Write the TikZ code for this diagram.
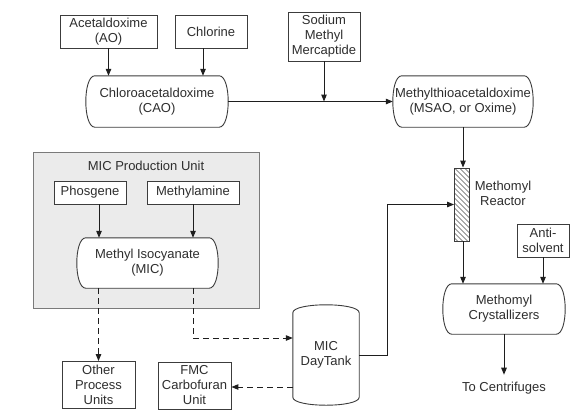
\documentclass[tikz,border=0pt]{standalone}
\usepackage{fontspec}
\setmainfont{Liberation Sans}
\usetikzlibrary{arrows.meta,backgrounds}
\definecolor{ink}{HTML}{1E1E1E}
\definecolor{txt}{HTML}{2E2E2E}
\definecolor{boxline}{HTML}{3C3C3C}
\definecolor{hatch}{HTML}{555555}
\definecolor{unitfill}{HTML}{EBEBEB}
\definecolor{unitline}{HTML}{7A7A7A}
% horizontal vessel: flat top and bottom, bulging ends
\newcommand\hvesseloutline[1]{%
  \draw[vesselline] ([xshift=9pt]#1.north west) -- ([xshift=-9pt]#1.north east)
    .. controls ([xshift=3pt]#1.north east) and ([xshift=3pt]#1.south east) .. ([xshift=-9pt]#1.south east)
    -- ([xshift=9pt]#1.south west)
    .. controls ([xshift=-3pt]#1.south west) and ([xshift=-3pt]#1.north west) .. cycle;}
% vertical vessel: straight walls, domed heads
\newcommand\vvesseloutline[1]{%
  \draw[vesselline] ([yshift=-8pt]#1.north west) -- ([yshift=8pt]#1.south west)
    .. controls ([yshift=-2.67pt]#1.south west) and ([yshift=-2.67pt]#1.south east) .. ([yshift=8pt]#1.south east)
    -- ([yshift=-8pt]#1.north east)
    .. controls ([yshift=2.67pt]#1.north east) and ([yshift=2.67pt]#1.north west) .. cycle;}
\begin{document}
\begin{tikzpicture}[x=1pt,y=-1pt,
  every node/.style={font=\fontsize{13}{15}\selectfont, text=txt, align=center, inner sep=0pt},
  box/.style={draw=boxline, fill=white, line width=0.9pt},
  vessel/.style={},
  vesselline/.style={draw=boxline, fill=white, line width=0.9pt},
  flow/.style={draw=ink, line width=1pt, -{Triangle[length=7pt,width=5.5pt]}},
  dflow/.style={flow, dash pattern=on 6pt off 4pt},
]
\useasboundingbox (0,0) rectangle (570,410);

% feed boxes and vessels of the oxime route
\node[box, minimum width=97pt, minimum height=33pt] (ao) at (108.5,31.5) {Acetaldoxime\\(AO)};
\node[box, minimum width=72pt, minimum height=33pt] (chlorine) at (211,31.5) {Chlorine};
\node[vessel, minimum width=142pt, minimum height=51pt] (cao) at (157,101.5) {Chloroacetaldoxime\\(CAO)};
\node[box, minimum width=72pt, minimum height=49pt] (sodium) at (324,36.5) {Sodium\\Methyl\\Mercaptide};
\node[vessel, minimum width=140pt, minimum height=51pt] (msao) at (463,101.5) {Methylthioacetaldoxime\\(MSAO, or Oxime)};

% methomyl reactor (packed column) and crystallizers
\node[draw=boxline, fill=white, line width=0.9pt, minimum width=15pt, minimum height=73pt,
  path picture={\foreach \k in {-20,-15,...,80}
    \draw[line width=0.5pt, hatch] (path picture bounding box.north west) ++(0,\k) -- ++(20,20);}]
  (reactor) at (462,204.5) {};
\node (reactorlabel) at (503,193) {Methomyl\\Reactor};
\node[box, minimum width=52pt, minimum height=33pt] (antisolvent) at (543,240.5) {Anti-\\solvent};
\node[vessel, minimum width=122pt, minimum height=50pt] (crys) at (504,309) {Methomyl\\Crystallizers};
\node[inner sep=1pt] (centrifuges) at (504,388) {To Centrifuges};

% MIC production unit
\node (unittitle) at (146,166) {MIC Production Unit};
\node[box, minimum width=72pt, minimum height=23pt] (phosgene) at (90,192.5) {Phosgene};
\node[box, minimum width=92pt, minimum height=23pt] (methylamine) at (193,192.5) {Methylamine};
\node[vessel, minimum width=141pt, minimum height=50pt] (mic) at (147.5,263) {Methyl Isocyanate\\(MIC)};

% MIC storage and consumers
\node[vessel, minimum width=66pt, minimum height=100pt] (daytank) at (326,355) {MIC\\DayTank};
\node[box, minimum width=73pt, minimum height=47pt] (other) at (98.5,385) {Other\\Process\\Units};
\node[box, minimum width=73pt, minimum height=47pt] (fmc) at (194.5,385.5) {FMC\\Carbofuran\\Unit};

\begin{scope}[on background layer]
  \fill[white] (0,0) rectangle (570,410);
  \node[draw=unitline, fill=unitfill, line width=0.8pt, minimum width=226pt, minimum height=156pt]
    (micunit) at (146,230) {};
  \hvesseloutline{cao}
  \hvesseloutline{msao}
  \hvesseloutline{mic}
  \hvesseloutline{crys}
  \vvesseloutline{daytank}
\end{scope}

% process flows
\coordinate (join) at (sodium.south |- cao.east);
\coordinate (riser) at (387,0);
\draw[flow] (ao.south) -- (ao.south |- cao.north);
\draw[flow] ([xshift=-8pt]chlorine.south) -- ([xshift=-8pt]chlorine.south |- cao.north);
\draw[flow] (cao.east) -- (msao.west);
\draw[flow] (sodium.south) -- (join);
\draw[flow] (msao.south) -- (msao.south |- reactor.north);
\draw[flow] (msao.south |- reactor.south) -- (msao.south |- crys.north);
\draw[flow] (antisolvent.south) -- (antisolvent.south |- crys.north);
\draw[flow] (crys.south) -- ([yshift=6pt]crys.south |- centrifuges.north);
\draw[flow] ([xshift=9pt]phosgene.south) -- ([xshift=9pt]phosgene.south |- mic.north);
\draw[flow] (methylamine.south) -- (methylamine.south |- mic.north);
\draw[flow] (daytank.east) -| (riser |- reactor.west) -- (reactor.west);

% MIC transfers
\draw[dflow] (other.north |- mic.south) -- (other.north);
\draw[dflow] (methylamine.south |- mic.south) |- ([yshift=17pt]daytank.west);
\draw[dflow] ([yshift=-32pt]daytank.west) -- ([yshift=-32pt]daytank.west -| fmc.east);
\end{tikzpicture}
\end{document}
